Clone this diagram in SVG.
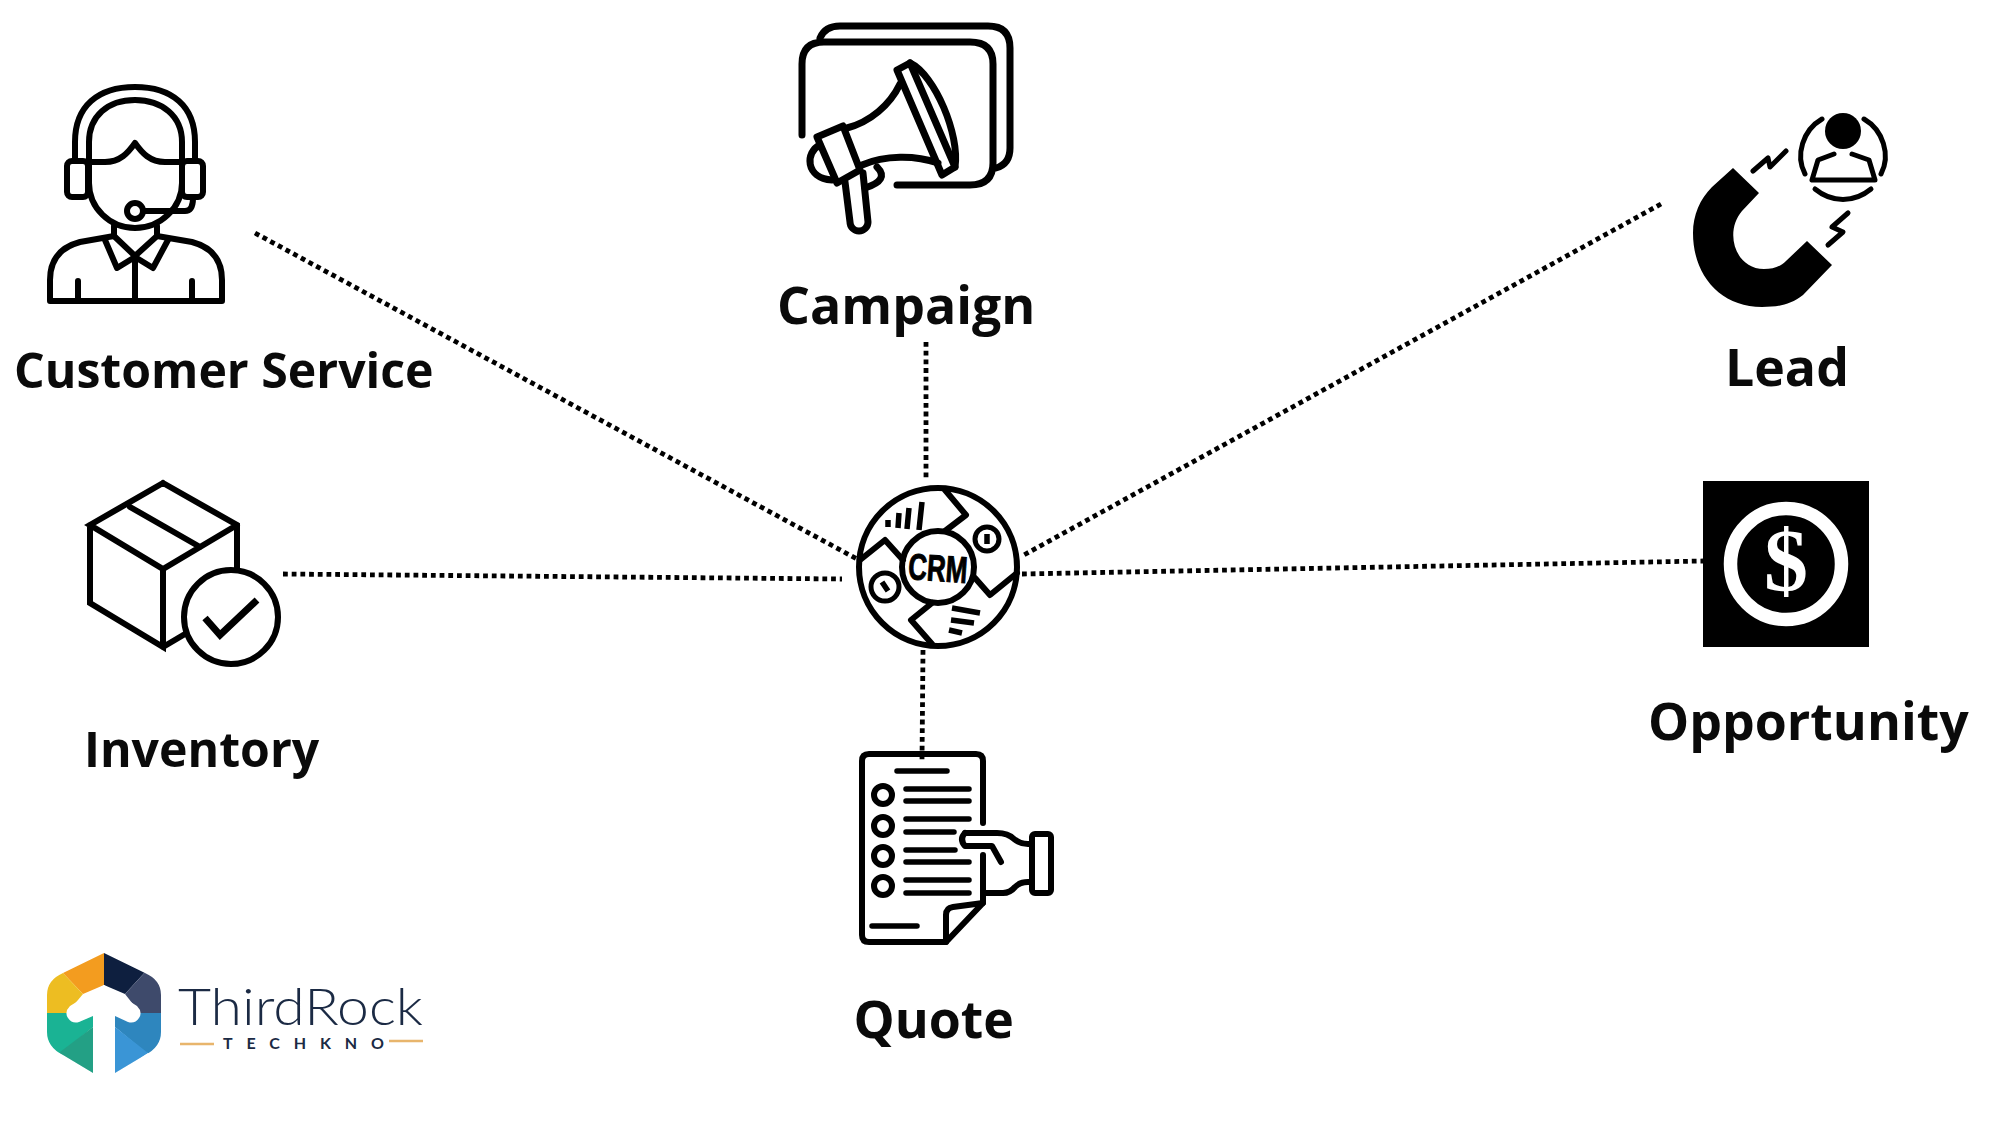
<svg xmlns="http://www.w3.org/2000/svg" width="2000" height="1125" viewBox="0 0 2000 1125">
<style>
.lbl{font-family:"Open Sans","DejaVu Sans",sans-serif;font-weight:700;font-size:48.2px;fill:#0a0a0a}
.big{font-size:51.8px}
.ic{fill:none;stroke:#000;stroke-width:6;stroke-linecap:round;stroke-linejoin:round}
.ic7{fill:none;stroke:#000;stroke-width:7;stroke-linecap:round;stroke-linejoin:round}
.tl{fill:none;stroke:#000;stroke-width:5.5;stroke-linecap:round}
.link{fill:none;stroke:#000;stroke-width:4.8;stroke-dasharray:4.8 3.9}
</style>
<defs><clipPath id="hex"><path d="M104 953L145 973Q161 980 161 995V1032Q161 1047 145 1055L115 1073H93L63 1055Q47 1047 47 1032V995Q47 980 63 973Z"/></clipPath></defs>
<rect width="2000" height="1125" fill="#fff"/>
<g id="connectors">
<path class="link" d="M255 233L857 559"/>
<path class="link" d="M926 342V478"/>
<path class="link" d="M1661 204L1022 556"/>
<path class="link" d="M283 574L842 579"/>
<path class="link" d="M1022 574L1703 561"/>
<path class="link" d="M923 650L922 760"/>
</g>
<g id="customer-service">
<g class="ic">
<path d="M75 160V142C75 106 98 87 135 87S195 106 195 142V160"/>
<path d="M89 162V142C89 116 108 100 135 100S182 116 182 142V162"/>
<rect x="67" y="161" width="21" height="36" rx="5"/>
<rect x="182" y="161" width="21" height="36" rx="5"/>
<path d="M89 162H105C120 162 128 153 135 143C142 153 150 162 165 162H182"/>
<path d="M89 162V183C89 208 110 228 135 228S182 208 182 183V162"/>
<circle cx="135" cy="211" r="8"/>
<path d="M143 211H185Q193 211 193 198"/>
<path d="M114 226V236L80 242Q50 250 50 280V301H222V280Q222 250 192 242L157 236V226"/>
<path d="M105 240L117 268L135 257L153 268L168 240"/>
<path d="M114 236L135 256L157 236"/>
<path d="M135 257V300M78 281V300M192 281V300"/>
</g>
<text class="lbl" x="14" y="388">Customer Service</text>
</g>
<g id="campaign">
<g class="ic7">
<path d="M820 38Q825 26 840 26H988Q1010 26 1010 48V148Q1010 164 996 168"/>
<path d="M802 135V64Q802 42 824 42H970Q993 42 993 64V163Q993 185 970 185H897"/>
<path d="M897 70L910 63L955 167L942 175Z"/>
<path d="M910 63C935 75 960 135 955 167"/>
<path d="M900 84C890 105 870 122 847 128"/>
<path d="M862 165C885 155 915 155 938 163"/>
<path d="M817 137L843 126L860 170L837 183Z"/>
<path d="M820 145C805 152 805 178 832 180"/>
<path d="M845 182L850 222A9 9 0 0 0 868 222L863 173"/>
<path d="M877 167Q890 180 865 188"/>
</g>
<text class="lbl big" x="777" y="324">Campaign</text>
</g>
<g id="lead">
<path d="M1733 168L1759 193L1742 211C1724 232 1735 269 1764 269C1773 269 1780 267 1786 261L1807 241L1832 265L1803 295C1790 305 1778 307 1762 307C1720 307 1693 275 1693 233C1693 215 1700 199 1712 187Z" fill="#000"/>
<circle cx="1843" cy="131" r="18" fill="#000"/>
<g fill="none" stroke="#000" stroke-width="5" stroke-linecap="round" stroke-linejoin="round">
<path d="M1822 119C1803 130 1795 155 1805 174"/>
<path d="M1864 119C1883 130 1891 155 1881 174"/>
<path d="M1815 189C1832 203 1854 203 1871 189"/>
<path d="M1834 154L1818 160L1812 180H1875L1869 160L1852 154"/>
<path d="M1753 171L1768 158L1770 167L1786 151"/>
<path d="M1828 245L1843 232L1832 227L1848 213"/>
</g>
<text class="lbl big" x="1725" y="386">Lead</text>
</g>
<g id="inventory">
<g class="ic">
<path d="M163 483L237 525V568M237 525L163 569L90 525L163 483M90 525V603L163 647V569M163 647L185 634M130 507L200 547" stroke-linejoin="miter"/>
<circle cx="231" cy="617" r="47"/>
<path d="M205 618L220 635L257 600" stroke-linecap="butt" stroke-linejoin="miter" stroke-width="7"/>
</g>
<text class="lbl" x="84" y="767">Inventory</text>
</g>
<g id="crm">
<g class="ic">
<circle cx="938" cy="567" r="79"/>
<circle cx="938" cy="567" r="36"/>
<path d="M860 560L885 540L903 560"/>
<path d="M945 490L966 515L945 531"/>
<path d="M975 578L990 595L1017 573"/>
<path d="M932 603L911 620L932 644"/>
<circle cx="987" cy="539" r="12" stroke-width="5"/>
<circle cx="885" cy="587" r="14" stroke-width="5"/>
</g>
<path fill="none" stroke="#000" stroke-width="5.5" d="M888 520V527M899 513L898 528M909 508L907 529M922 502L919 530M987 534V544M882 582L888 591M952 608L980 613M951 620L974 623M949 630L962 633"/>
<text x="938" y="581" text-anchor="middle" font-family="'Liberation Sans',sans-serif" font-weight="700" font-size="37" textLength="59" lengthAdjust="spacingAndGlyphs" transform="rotate(4 938 567)" fill="#000" stroke="#000" stroke-width="1">CRM</text>
</g>
<g id="opportunity">
<rect x="1703" y="481" width="166" height="166" fill="#000"/>
<circle cx="1786" cy="564" r="55.5" fill="none" stroke="#fff" stroke-width="13.5"/>
<text x="1786" y="590" text-anchor="middle" font-family="'Liberation Serif',serif" font-weight="700" font-size="88" fill="#fff">$</text>
<text class="lbl big" x="1648" y="740">Opportunity</text>
</g>
<g id="quote">
<g class="ic">
<path d="M983 823V761Q983 754 976 754H869Q862 754 862 761V935Q862 942 869 942H946L983 903V855"/>
<path d="M946 942V915Q946 908 953 907L983 903"/>
<circle cx="883" cy="795" r="9"/><circle cx="883" cy="826" r="9"/><circle cx="883" cy="856" r="9"/><circle cx="883" cy="886" r="9"/>
<path d="M965 833H997Q1008 833 1014 839Q1020 844 1028 844H1032"/>
<path d="M965 833Q959 839 965 846H992L1001 862"/>
<path d="M985 893H1003Q1010 893 1015 887Q1020 882 1028 882H1032"/>
<rect x="1032" y="834" width="19" height="59" rx="3"/>
</g>
<path class="tl" d="M897 771H947M906 789H969M906 801H969M906 819H969M906 832H954M906 850H955M906 862H969M906 880H969M906 893H969M872 926H917"/>
<text class="lbl big" x="853.500" y="1038">Quote</text>
</g>
<g id="logo">
<g clip-path="url(#hex)">
<path fill="#F39C1F" d="M104 950V985L83 994L60 970Z"/>
<path fill="#EDBD22" d="M60 970L83 994L67 1013H44V970Z"/>
<path fill="#0E1F3F" d="M104 950V985L125 994L147 970Z"/>
<path fill="#3E4A6B" d="M147 970L125 994L140 1013H165V970Z"/>
<path fill="#1AB394" d="M44 1013H93V1027L63 1052L44 1060Z"/>
<path fill="#23A085" d="M93 1027V1076H60V1052Z"/>
<path fill="#2E86BE" d="M115 1013H165V1060L145 1052L115 1027Z"/>
<path fill="#3A95D6" d="M115 1027L148 1053L115 1076Z"/>
</g>
<path fill="#fff" d="M104 985L137 1006Q143 1012 139 1018Q135 1024 128 1022L115 1016V1076H93V1016L79 1022Q72 1024 68 1018Q64 1012 70 1006Z"/>
<text x="178" y="1025" font-family="Lato,'Open Sans',sans-serif" font-weight="300" font-size="52" fill="#1B2A44" textLength="245" lengthAdjust="spacingAndGlyphs">ThirdRock</text>
<text x="223" y="1049" font-family="Lato,'Open Sans',sans-serif" font-weight="700" font-size="16" fill="#1B2A44" textLength="161">TECHKNO</text>
<path d="M180 1044H214M389 1041H423" stroke="#E8B56C" stroke-width="2.5" fill="none"/>
</g>
</svg>
